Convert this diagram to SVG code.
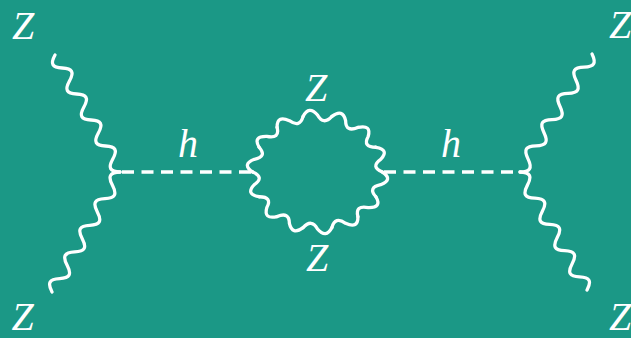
<svg xmlns="http://www.w3.org/2000/svg" xmlns:xlink="http://www.w3.org/1999/xlink" width="631" height="338" viewBox="0 0 631 338">
  <style>
    .bg { fill: #1b9886; }
    .boson { fill: none; stroke: #ffffff; stroke-width: 3.3; stroke-linecap: round; stroke-linejoin: round; }
    .loopseg { fill: none; stroke: #ffffff; stroke-width: 3.3; stroke-linecap: round; vector-effect: non-scaling-stroke; }
    .scalar { fill: none; stroke: #ffffff; stroke-width: 3.3; stroke-dasharray: 12 7.5; }
    .lbl { fill: #ffffff; font-family: "Liberation Serif", "Times New Roman", serif; font-style: italic; font-size: 40px; text-anchor: middle; }
  </style>
  <defs>
    <path id="seg" class="loopseg" d="M60,0 Q70.553,7.949 58.496,13.351 Q46.25,16.184 54.058,26.033"/>
  </defs>
  <rect class="bg" x="0" y="0" width="631" height="338"/>

  <g id="connectors">
    <g id="z-top-left" transform="translate(120,172) rotate(-119.05)">
      <path class="boson" d="M0,0 c5.416,-8.667 9.454,-8.667 14.87,0 s9.454,8.667 14.87,0 s9.454,-8.667 14.87,0 s9.454,8.667 14.87,0 s9.454,-8.667 14.87,0 s9.454,8.667 14.87,0 s9.454,-8.667 14.87,0 s9.454,8.667 14.87,0 s9.454,-8.667 14.87,0"/>
    </g>
    <g id="z-bottom-left" transform="translate(120,172) rotate(119.54)">
      <path class="boson" d="M0,0 c5.58,8.667 9.74,8.667 15.32,0 s9.74,-8.667 15.32,0 s9.74,8.667 15.32,0 s9.74,-8.667 15.32,0 s9.74,8.667 15.32,0 s9.74,-8.667 15.32,0 s9.74,8.667 15.32,0 s9.74,-8.667 15.32,0 s9.74,8.667 15.32,0"/>
    </g>
    <g id="z-top-right" transform="translate(520,172) rotate(-58.6)">
      <path class="boson" d="M0,0 c5.594,8.667 9.766,8.667 15.36,0 s9.766,-8.667 15.36,0 s9.766,8.667 15.36,0 s9.766,-8.667 15.36,0 s9.766,8.667 15.36,0 s9.766,-8.667 15.36,0 s9.766,8.667 15.36,0 s9.766,-8.667 15.36,0 s9.766,8.667 15.36,0"/>
    </g>
    <g id="z-bottom-right" transform="translate(520,172) rotate(60.4)">
      <path class="boson" d="M0,0 c5.492,-8.667 9.588,-8.667 15.08,0 s9.588,8.667 15.08,0 s9.588,-8.667 15.08,0 s9.588,8.667 15.08,0 s9.588,-8.667 15.08,0 s9.588,8.667 15.08,0 s9.588,-8.667 15.08,0 s9.588,8.667 15.08,0 s9.588,-8.667 15.08,0"/>
    </g>
    <line id="h-left" class="scalar" x1="122" y1="172" x2="253" y2="172"/>
    <line id="h-right" class="scalar" x1="384" y1="172" x2="520" y2="172"/>
    <g id="z-loop" transform="translate(317.5,172) scale(1.08,0.95)">
      <use xlink:href="#seg" transform="rotate(0)"/>
      <use xlink:href="#seg" transform="rotate(25.714)"/>
      <use xlink:href="#seg" transform="rotate(51.429)"/>
      <use xlink:href="#seg" transform="rotate(77.143)"/>
      <use xlink:href="#seg" transform="rotate(102.857)"/>
      <use xlink:href="#seg" transform="rotate(128.571)"/>
      <use xlink:href="#seg" transform="rotate(154.286)"/>
      <use xlink:href="#seg" transform="rotate(180)"/>
      <use xlink:href="#seg" transform="rotate(205.714)"/>
      <use xlink:href="#seg" transform="rotate(231.429)"/>
      <use xlink:href="#seg" transform="rotate(257.143)"/>
      <use xlink:href="#seg" transform="rotate(282.857)"/>
      <use xlink:href="#seg" transform="rotate(308.571)"/>
      <use xlink:href="#seg" transform="rotate(334.286)"/>
    </g>
  </g>

  <g id="label-z-tl"><text class="lbl" x="23" y="39">Z</text></g>
  <g id="label-z-bl"><text class="lbl" x="22.5" y="330">Z</text></g>
  <g id="label-z-tr"><text class="lbl" x="620" y="38">Z</text></g>
  <g id="label-z-br"><text class="lbl" x="620" y="330">Z</text></g>
  <g id="label-z-loop-top"><text class="lbl" x="316" y="101">Z</text></g>
  <g id="label-z-loop-bottom"><text class="lbl" x="317" y="271">Z</text></g>
  <g id="label-h-left"><text class="lbl" x="188" y="157">h</text></g>
  <g id="label-h-right"><text class="lbl" x="451" y="157">h</text></g>
</svg>
